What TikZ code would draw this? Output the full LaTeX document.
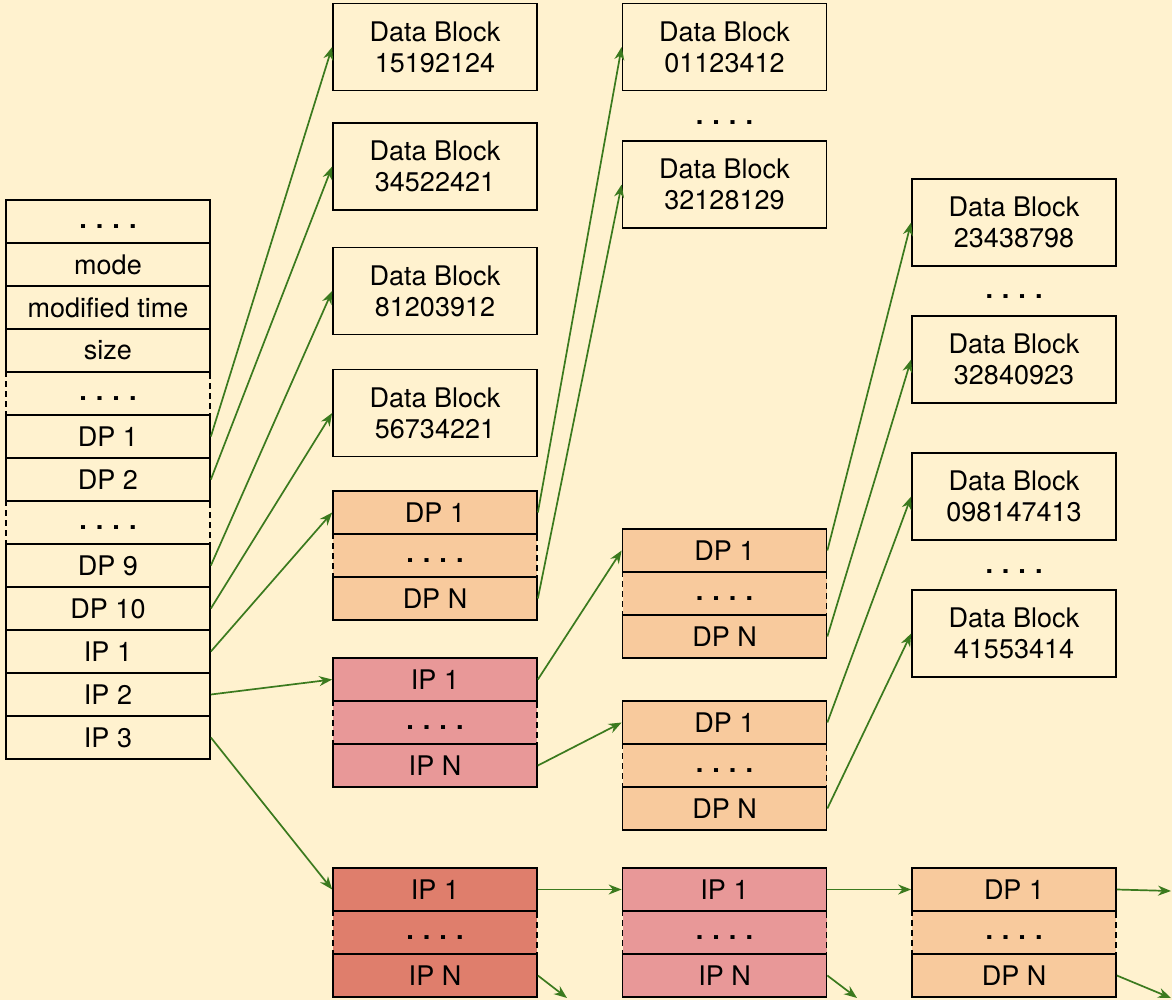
\documentclass[tikz,border=0pt]{standalone}
\usepackage{fontspec}
\setmainfont{TeX Gyre Heros}
\usetikzlibrary{arrows.meta}
\newcommand{\gapdots}{\vphantom{Dp}\textbf{.\,\,.\,\,.\,\,.}}

\begin{document}
\begin{tikzpicture}[x=1pt, y=-1pt, font=\fontsize{27}{31}\selectfont,
   row/.style={rectangle, draw, line width=1.7pt, minimum width=204pt, minimum height=43pt, inner sep=0pt},
   gap/.style={row, dashed, dash pattern=on 6pt off 4pt},
   blk/.style={row, minimum height=87pt, align=center},
   dp/.style={fill=orangefill},
   ip/.style={fill=pinkfill},
   ipp/.style={fill=redfill},
   ptr/.style={draw=ptrgreen, line width=1.7pt, -{Stealth[length=13pt, width=10pt]}}]
  \definecolor{bgyellow}{HTML}{FFF2CF}
  \definecolor{orangefill}{HTML}{F8CA9D}
  \definecolor{pinkfill}{HTML}{E89898}
  \definecolor{redfill}{HTML}{DF7E6C}
  \definecolor{ptrgreen}{HTML}{3B7A1E}
  \fill[bgyellow] (0,0) rectangle (1172,1000);
  \useasboundingbox (0,0) rectangle (1172,1000);

  % inode
  \node[gap] (igap1) at (108,393.5) {\gapdots};
  \node[gap] (igap2) at (108,522.5) {\gapdots};
  \node[row] (itop)  at (108,221.5) {\gapdots};
  \node[row] (mode)  at (108,264.5) {mode};
  \node[row] (mtime) at (108,307.5) {modified time};
  \node[row] (size)  at (108,350.5) {size};
  \node[row] (idp1)  at (108,436.5) {DP 1};
  \node[row] (idp2)  at (108,479.5) {DP 2};
  \node[row] (idp9)  at (108,565.5) {DP 9};
  \node[row] (idp10) at (108,608.5) {DP 10};
  \node[row] (iip1)  at (108,651.5) {IP 1};
  \node[row] (iip2)  at (108,694.5) {IP 2};
  \node[row] (iip3)  at (108,737.5) {IP 3};

  % second column
  \node[blk] (db1) at (435,47)    {Data Block\\15192124};
  \node[blk] (db2) at (435,166.5) {Data Block\\34522421};
  \node[blk] (db3) at (435,291)   {Data Block\\81203912};
  \node[blk] (db4) at (435,413)   {Data Block\\56734221};
  \node[gap, dp]  (adgap) at (435,555.5) {\gapdots};
  \node[row, dp]  (adp1)  at (435,512.5) {DP 1};
  \node[row, dp]  (adpn)  at (435,598.5) {DP N};
  \node[gap, ip]  (aigap) at (435,722.5) {\gapdots};
  \node[row, ip]  (aip1)  at (435,679.5) {IP 1};
  \node[row, ip]  (aipn)  at (435,765.5) {IP N};
  \node[gap, ipp] (bigap) at (435,932.5) {\gapdots};
  \node[row, ipp] (bip1)  at (435,889.5) {IP 1};
  \node[row, ipp] (bipn)  at (435,975.5) {IP N};

  % third column
  \node[blk] (db5) at (724.5,47)    {Data Block\\01123412};
  \node (dots1)    at (724.5,118)   {\gapdots};
  \node[blk] (db6) at (724.5,184.5) {Data Block\\32128129};
  \node[gap, dp] (cdgap) at (724.5,593.5) {\gapdots};
  \node[row, dp] (cdp1)  at (724.5,550.5) {DP 1};
  \node[row, dp] (cdpn)  at (724.5,636.5) {DP N};
  \node[gap, dp] (ddgap) at (724.5,765.5) {\gapdots};
  \node[row, dp] (ddp1)  at (724.5,722.5) {DP 1};
  \node[row, dp] (ddpn)  at (724.5,808.5) {DP N};
  \node[gap, ip] (eigap) at (724.5,932.5) {\gapdots};
  \node[row, ip] (eip1)  at (724.5,889.5) {IP 1};
  \node[row, ip] (eipn)  at (724.5,975.5) {IP N};

  % fourth column
  \node[blk] (db7)  at (1014,222.5) {Data Block\\23438798};
  \node (dots2)     at (1014,292)   {\gapdots};
  \node[blk] (db8)  at (1014,359.5) {Data Block\\32840923};
  \node[blk] (db9)  at (1014,496.5) {Data Block\\098147413};
  \node (dots3)     at (1014,567)   {\gapdots};
  \node[blk] (db10) at (1014,633.5) {Data Block\\41553414};
  \node[gap, dp] (fdgap) at (1014,932.5) {\gapdots};
  \node[row, dp] (fdp1)  at (1014,889.5) {DP 1};
  \node[row, dp] (fdpn)  at (1014,975.5) {DP N};

  \coordinate (out1) at (567,998);
  \coordinate (out2) at (857,998);
  \coordinate (out3) at (1171,891);
  \coordinate (out4) at (1171,998);

  % pointers
  \draw[ptr] (idp1.east)  -- (db1.west);
  \draw[ptr] (idp2.east)  -- (db2.west);
  \draw[ptr] (idp9.east)  -- (db3.west);
  \draw[ptr] (idp10.east) -- (db4.west);
  \draw[ptr] (iip1.east)  -- (adp1.west);
  \draw[ptr] (iip2.east)  -- (aip1.west);
  \draw[ptr] (iip3.east)  -- (bip1.west);
  \draw[ptr] (adp1.east)  -- (db5.west);
  \draw[ptr] (adpn.east)  -- (db6.west);
  \draw[ptr] (aip1.east)  -- (cdp1.west);
  \draw[ptr] (aipn.east)  -- (ddp1.west);
  \draw[ptr] (cdp1.east)  -- (db7.west);
  \draw[ptr] (cdpn.east)  -- (db8.west);
  \draw[ptr] (ddp1.east)  -- (db9.west);
  \draw[ptr] (ddpn.east)  -- (db10.west);
  \draw[ptr] (bip1.east)  -- (eip1.west);
  \draw[ptr] (eip1.east)  -- (fdp1.west);
  \draw[ptr] (bipn.east)  -- (out1);
  \draw[ptr] (eipn.east)  -- (out2);
  \draw[ptr] (fdp1.east)  -- (out3);
  \draw[ptr] (fdpn.east)  -- (out4);
\end{tikzpicture}
\end{document}
